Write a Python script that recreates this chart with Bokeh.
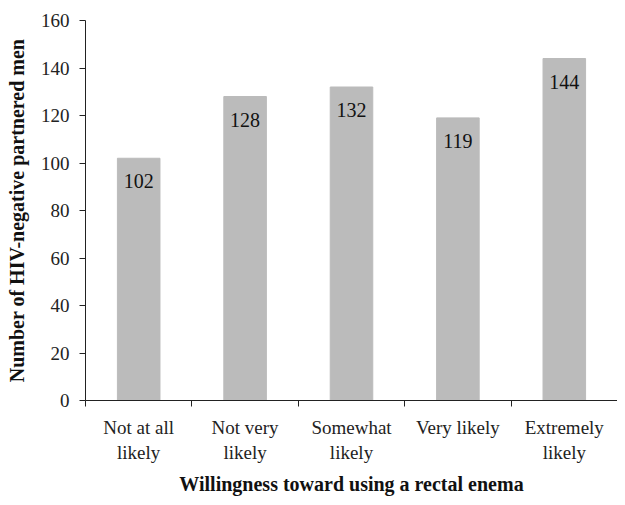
from bokeh.plotting import figure
from bokeh.models import ColumnDataSource, FixedTicker, Range1d
from bokeh.core.properties import value
from bokeh.embed import file_html
from bokeh.resources import INLINE

categories = ["Not at all\nlikely", "Not very\nlikely", "Somewhat\nlikely", "Very likely", "Extremely\nlikely"]
counts = [102, 128, 132, 119, 144]
y_ticks = [0, 20, 40, 60, 80, 100, 120, 140, 160]

FONT = "Liberation Serif"
xs = [i + 0.5 for i in range(len(categories))]

src = ColumnDataSource(dict(x=xs, top=counts, label=[str(c) for c in counts]))

p = figure(width=617, height=497, output_backend="svg", toolbar_location=None,
           x_range=Range1d(0, len(categories)), y_range=Range1d(0, 160),
           min_border_left=85, min_border_top=20, min_border_bottom=95, min_border_right=0)

p.vbar(x="x", top="top", width=0.4, bottom=0, color="#BBBBBB", source=src)
p.text(x="x", y="top", text="label", source=src, text_align="center", text_baseline="middle",
       y_offset=23, text_font=value(FONT), text_font_size="20px", text_color="#111111")

p.grid.visible = False
p.outline_line_color = None
p.background_fill_color = "white"

xa = p.xaxis[0]
xa.ticker = FixedTicker(ticks=xs, minor_ticks=list(range(len(categories) + 1)))
xa.major_label_overrides = {x: c for x, c in zip(xs, categories)}
xa.major_tick_out = 0
xa.major_tick_in = 0
xa.minor_tick_out = 6
xa.minor_tick_in = 0
xa.major_label_standoff = 10
xa.major_label_text_font = FONT
xa.major_label_text_font_size = "19px"
xa.major_label_text_color = "#222222"
xa.axis_label = "Willingness toward using a rectal enema"
xa.axis_label_text_font = FONT
xa.axis_label_text_font_style = "bold"
xa.axis_label_text_font_size = "20px"
xa.axis_label_text_color = "#111111"
xa.axis_label_standoff = 7
xa.axis_line_color = "#222222"
xa.minor_tick_line_color = "#222222"

ya = p.yaxis[0]
ya.ticker = FixedTicker(ticks=y_ticks, minor_ticks=[])
ya.major_tick_out = 6
ya.major_tick_in = 0
ya.minor_tick_out = 0
ya.minor_tick_in = 0
ya.major_label_standoff = 10
ya.major_label_text_font = FONT
ya.major_label_text_font_size = "19px"
ya.major_label_text_color = "#222222"
ya.axis_label = "Number of HIV-negative partnered men"
ya.axis_label_text_font = FONT
ya.axis_label_text_font_style = "bold"
ya.axis_label_text_font_size = "20px"
ya.axis_label_text_color = "#111111"
ya.axis_label_standoff = 10
ya.axis_line_color = "#222222"
ya.major_tick_line_color = "#222222"

open("out.html", "w").write(file_html(p, INLINE))
